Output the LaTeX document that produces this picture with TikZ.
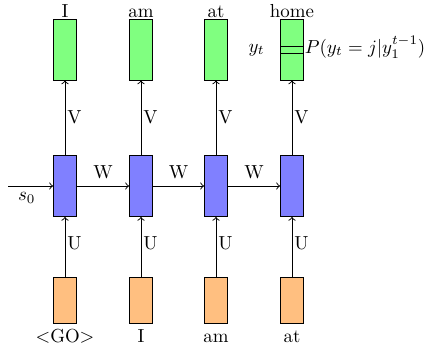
\documentclass[tikz,border=0pt]{standalone}
\begin{document}
\begin{tikzpicture}[x=0.53pt,y=-0.53pt,
  cell/.style={draw=black, line width=0.5pt, minimum width=12.2pt, inner sep=0pt},
  outcell/.style={cell, fill=green!50, minimum height=32.3pt},
  hidcell/.style={cell, fill=blue!50, minimum height=32.3pt},
  incell/.style={cell, fill=orange!50, minimum height=24.4pt},
  word/.style={anchor=base, inner sep=0pt},
  conn/.style={->, line width=0.5pt},
  wt/.style={inner sep=1pt}]
\useasboundingbox (0,0) rectangle (430,345);

% output, hidden and input cells of the four time steps
\foreach \i/\x in {1/65,2/141,3/216,4/292}{
  \node[outcell] (g\i) at (\x,49.5) {};
  \node[hidcell] (b\i) at (\x,186) {};
  \node[incell]  (o\i) at (\x,300) {};
}

% predicted words
\node[word] (yI)    at (65,17)  {I};
\node[word] (yam)   at (141,17) {am};
\node[word] (yat)   at (216,17) {at};
\node[word] (yhome) at (292,17) {home};

% input words
\node[word] (xgo) at (65,342.5)  {$<$GO$>$};
\node[word] (xI)  at (141,342.5) {I};
\node[word] (xam) at (216,342.5) {am};
\node[word] (xat) at (292,342.5) {at};

% vertical connections
\foreach \i in {1,...,4}{
  \draw[conn] (o\i) -- node[pos=0.55, right, wt] {U} (b\i);
  \draw[conn] (b\i) -- node[midway, right, wt] {V} (g\i);
}

% recurrent connections
\coordinate (s0) at (8,186);
\draw[conn] (s0) -- node[midway, below, xshift=-2] {$s_0$} (b1);
\draw[conn] (b1) -- node[midway, above] {W} (b2);
\draw[conn] (b2) -- node[midway, above] {W} (b3);
\draw[conn] (b3) -- node[midway, above] {W} (b4);

% softmax slot inside the last output cell
\draw[line width=0.5pt] (g4.west |- 0,46) -- (g4.east |- 0,46);
\draw[line width=0.5pt] (g4.west |- 0,53) -- (g4.east |- 0,53);
\node[anchor=base east, inner sep=0pt] (yt) at (265,52) {$y_t$};
\node[anchor=base west, inner sep=0pt] (prob) at (304.5,53) {$P(y_t = j|y_1^{t-1})$};
\end{tikzpicture}
\end{document}
